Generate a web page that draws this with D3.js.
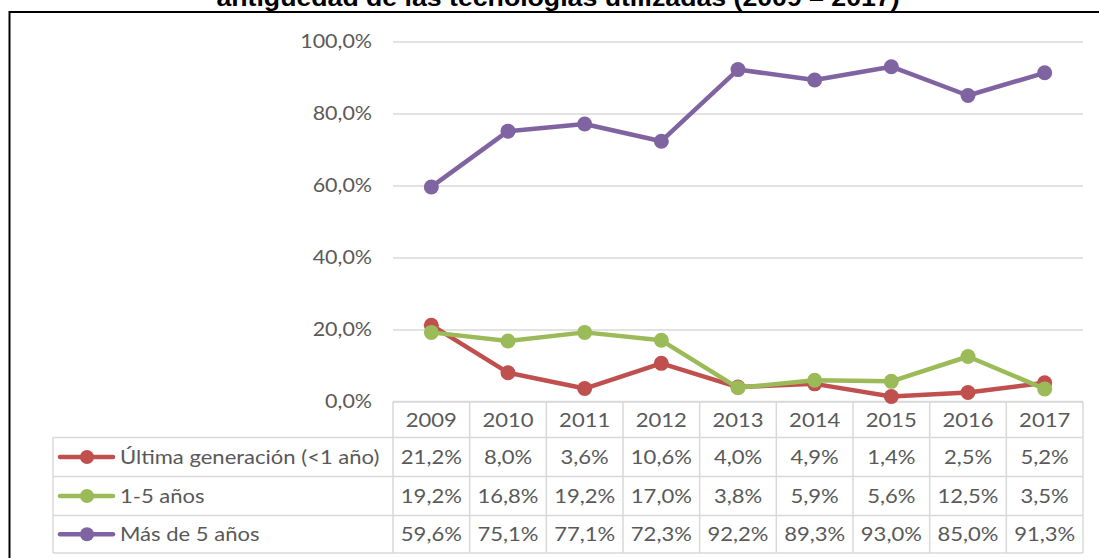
<!DOCTYPE html>
<html>
<head>
<meta charset="utf-8">
<script src="https://cdn.jsdelivr.net/npm/d3@7"></script>
<style>
  html, body { margin: 0; padding: 0; background: #fff; }
  svg { display: block; }
</style>
</head>
<body>
<svg id="chart" width="1099" height="558"></svg>
<script>
const title = "antigüedad de las tecnologías utilizadas (2009 – 2017)";
const years = ["2009","2010","2011","2012","2013","2014","2015","2016","2017"];
const seriesNames = ["Última generación (<1 año)", "1-5 años", "Más de 5 años"];
const ultimaGeneracion = [21.2, 8.0, 3.6, 10.6, 4.0, 4.9, 1.4, 2.5, 5.2];
const unoCincoAnos = [19.2, 16.8, 19.2, 17.0, 3.8, 5.9, 5.6, 12.5, 3.5];
const masDeCinco = [59.6, 75.1, 77.1, 72.3, 92.2, 89.3, 93.0, 85.0, 91.3];
const yTicks = [0, 20, 40, 60, 80, 100];
const colors = ["#C0504D", "#9BBB59", "#8064A2"];

const series = [
  { name: seriesNames[0], values: ultimaGeneracion, color: colors[0] },
  { name: seriesNames[1], values: unoCincoAnos, color: colors[1] },
  { name: seriesNames[2], values: masDeCinco, color: colors[2] }
];

const svg = d3.select("#chart");
const FONT = "Lato, 'Open Sans', sans-serif";
const SX = 1.16; // horizontal stretch of the reference text
const gridColor = "#D9D9D9";
const textColor = "#595959";

const plotLeft = 393, plotRight = 1083, plotTop = 41.5, plotBottom = 401.5;
const x = d3.scaleBand().domain(years).range([plotLeft, plotRight]);
const y = d3.scaleLinear().domain([0, 100]).range([plotBottom, plotTop]);

// helper: stretched text placed at (px, py)
function sText(parent, px, py, str, opts) {
  const t = parent.append("text")
    .attr("transform", `translate(${px},${py}) scale(${SX},1)`)
    .attr("x", 0).attr("y", 0)
    .attr("dy", opts.dy || "0.35em")
    .attr("text-anchor", opts.anchor || "start")
    .attr("font-family", opts.family || FONT)
    .attr("font-size", opts.size || 19)
    .attr("font-weight", opts.weight || "normal")
    .attr("fill", opts.fill || textColor)
    .text(str);
  return t;
}

// Frame
svg.append("line").attr("x1", 9.5).attr("x2", 1099).attr("y1", 12).attr("y2", 12)
  .attr("stroke", "#000").attr("stroke-width", 2);
svg.append("line").attr("x1", 9.5).attr("x2", 9.5).attr("y1", 11).attr("y2", 558)
  .attr("stroke", "#000").attr("stroke-width", 2);

// Title (cut off at top, as in the reference)
sText(svg, 558, 6, title, { anchor: "middle", family: "Arial, 'Liberation Sans', sans-serif",
  weight: "bold", size: 23, fill: "#000", dy: "0" });

// Gridlines + y axis
const yAxis = d3.axisLeft(y).tickValues(yTicks)
  .tickSize(-(plotRight - plotLeft))
  .tickPadding(20)
  .tickFormat(d => d3.format(".1f")(d).replace(".", ",") + "%");
const gy = svg.append("g").attr("transform", `translate(${plotLeft},0)`).call(yAxis);
gy.select(".domain").remove();
gy.selectAll(".tick line").attr("stroke", gridColor).attr("stroke-width", 1.3);
gy.selectAll(".tick text").attr("font-family", FONT).attr("font-size", 18.5)
  .attr("fill", textColor).attr("x", -21 / SX)
  .attr("transform", `scale(${SX},1)`);

// Table
const tableLeft = 53;
const rowEdges = [401.5, 437.5, 476.5, 515.5, 553];
const tbl = svg.append("g");
tbl.append("line").attr("x1", plotLeft).attr("x2", plotRight)
  .attr("y1", rowEdges[0]).attr("y2", rowEdges[0]).attr("stroke", gridColor).attr("stroke-width", 1.5);
for (let i = 1; i < rowEdges.length; i++) {
  tbl.append("line").attr("x1", tableLeft).attr("x2", plotRight)
    .attr("y1", rowEdges[i]).attr("y2", rowEdges[i]).attr("stroke", gridColor).attr("stroke-width", 1.5);
}
const vx = years.map(d => x(d)).concat([plotRight]);
vx.forEach(v => {
  tbl.append("line").attr("x1", v).attr("x2", v)
    .attr("y1", rowEdges[0]).attr("y2", rowEdges[4]).attr("stroke", gridColor).attr("stroke-width", 1.5);
});
tbl.append("line").attr("x1", tableLeft).attr("x2", tableLeft)
  .attr("y1", rowEdges[1]).attr("y2", rowEdges[4]).attr("stroke", gridColor).attr("stroke-width", 1.5);

// Year header
years.forEach(d => {
  sText(tbl, x(d) + x.bandwidth() / 2, (rowEdges[0] + rowEdges[1]) / 2 + 0.5, d, { anchor: "middle" });
});

const fmt = v => d3.format(".1f")(v).replace(".", ",") + "%";
series.forEach((s, i) => {
  const cy = (rowEdges[i + 1] + rowEdges[i + 2]) / 2;
  const row = tbl.append("g");
  row.append("line").attr("x1", 60).attr("x2", 113).attr("y1", cy).attr("y2", cy)
    .attr("stroke", s.color).attr("stroke-width", 4.5).attr("stroke-linecap", "round");
  row.append("circle").attr("cx", 87).attr("cy", cy).attr("r", 7).attr("fill", s.color);
  sText(row, 120, cy, s.name, { anchor: "start" });
  s.values.forEach((v, j) => {
    sText(row, x(years[j]) + x.bandwidth() / 2, cy, fmt(v), { anchor: "middle" });
  });
});

// Lines
const line = d3.line()
  .x((d, j) => x(years[j]) + x.bandwidth() / 2)
  .y(d => y(d));
series.forEach(s => {
  const g = svg.append("g");
  g.append("path").datum(s.values).attr("d", line)
    .attr("fill", "none").attr("stroke", s.color).attr("stroke-width", 4.5)
    .attr("stroke-linejoin", "round");
  g.selectAll("circle").data(s.values).join("circle")
    .attr("cx", (d, j) => x(years[j]) + x.bandwidth() / 2)
    .attr("cy", d => y(d)).attr("r", 7.5).attr("fill", s.color);
});
</script>
</body>
</html>
